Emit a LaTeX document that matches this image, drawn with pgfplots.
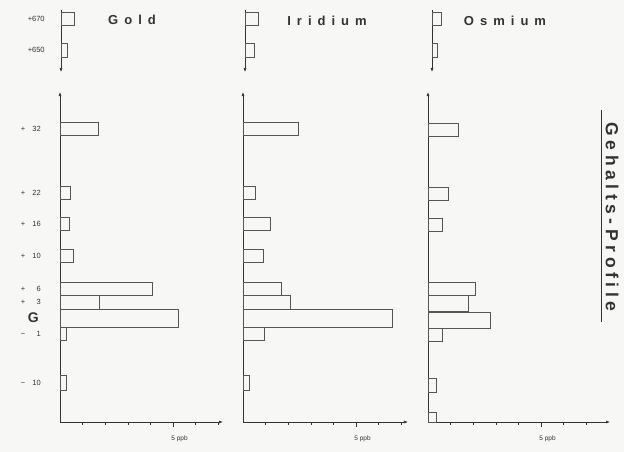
\documentclass[border=0pt]{standalone}
\usepackage{fontspec}
\setmainfont{Liberation Sans}
\usepackage{pgfplots}
\pgfplotsset{compat=1.18}
\usetikzlibrary{arrows.meta}
\definecolor{paper}{HTML}{F7F7F5}
\definecolor{ink}{HTML}{333333}
\definecolor{barink}{HTML}{555555}
\newcommand{\lbl}[2]{\makebox[20pt]{#1\hfill #2}}
\pgfplotsset{
  base/.style={scale only axis, clip=false,
    /pgf/number format/assume math mode=true,
    yticklabel style={font=\fontsize{7.5}{8}\selectfont, text=ink, anchor=east, inner sep=0pt, xshift=-14pt},
    ytick style={draw=none}},
  mainaxis/.style={base, height=330pt, ymin=-422, ymax=-92, xmin=0,
    axis x line=bottom, axis y line=left,
    x axis line style={ink, line width=0.6pt, -{Latex[length=4pt,width=3pt]}},
    y axis line style={ink, line width=0.6pt, -{Latex[length=4pt,width=3pt]}},
    xtick={5}, xticklabels={5 ppb}, minor xtick={1,2,3,4,6,7},
    tick align=outside, major tick length=5pt, minor tick length=2.5pt,
    xtick style={ink, line width=0.5pt},
    xticklabel style={font=\fontsize{6.5}{7}\selectfont, text=ink, anchor=north west, inner sep=0pt, xshift=-1.8pt, yshift=-9pt},
    ytick=\empty},
  topaxis/.style={base, height=62pt, width=40pt, ymin=-72, ymax=-10, xmin=0, xmax=1.77,
    axis x line=none, axis y line=left,
    y axis line style={ink, line width=0.6pt, {Latex[length=4pt,width=3pt]}-},
    xtick=\empty, ytick=\empty},
  barsty/.style={xbar, bar shift=0pt, draw=barink, fill=none, line width=0.6pt},
}
\begin{document}
\begin{tikzpicture}
\fill[paper] (0pt,0pt) rectangle (624pt,-452pt);

% ---------------- Gold ----------------
\begin{axis}[topaxis, at={(61pt,-72pt)}, anchor=south west,
  ytick={-18.5,-50}, yticklabels={{+670},{+650}}]
\addplot[barsty, bar width=13] coordinates {(0.6,-18.5)};
\addplot[barsty, bar width=14] coordinates {(0.3,-50)};
\end{axis}
\begin{axis}[mainaxis, at={(60pt,-422pt)}, anchor=south west, width=163pt, xmax=7.21,
  ytick={-129,-192.5,-224,-256,-288.5,-302,-318,-333.5,-382.5},
  yticklabels={{\lbl{+}{32}},{\lbl{+}{22}},{\lbl{+}{16}},{\lbl{+}{10}},{\lbl{+}{6}},{\lbl{+}{3}},
    {\makebox[20pt][r]{\fontsize{14}{14}\selectfont\bfseries G\hspace{2pt}}},{\lbl{−}{1}},{\lbl{−}{10}}}]
\addplot[barsty, bar width=13] coordinates {(1.68,-129) (0.45,-192.5) (0.4,-224) (0.57,-256) (4.1,-288.5) (0.3,-333.5)};
\addplot[barsty, bar width=14] coordinates {(1.72,-302)};
\addplot[barsty, bar width=18] coordinates {(5.25,-318)};
\addplot[barsty, bar width=15] coordinates {(0.27,-382.5)};
\end{axis}

% ---------------- Iridium ----------------
\begin{axis}[topaxis, at={(245pt,-72pt)}, anchor=south west]
\addplot[barsty, bar width=13] coordinates {(0.6,-18.5)};
\addplot[barsty, bar width=14] coordinates {(0.4,-50)};
\end{axis}
\begin{axis}[mainaxis, at={(243pt,-422pt)}, anchor=south west, width=165pt, xmax=7.3]
\addplot[barsty, bar width=13] coordinates {(2.45,-129) (0.53,-192.5) (1.2,-224) (0.88,-256) (1.68,-288.5) (0.93,-333.5)};
\addplot[barsty, bar width=14] coordinates {(2.1,-302)};
\addplot[barsty, bar width=18] coordinates {(6.6,-318)};
\addplot[barsty, bar width=15] coordinates {(0.3,-382.5)};
\end{axis}

% ---------------- Osmium ----------------
\begin{axis}[topaxis, at={(432pt,-72pt)}, anchor=south west]
\addplot[barsty, bar width=13] coordinates {(0.4,-18.5)};
\addplot[barsty, bar width=14] coordinates {(0.22,-50)};
\end{axis}
\begin{axis}[mainaxis, at={(428pt,-422pt)}, anchor=south west, width=182pt, xmax=8.05]
\addplot[barsty, bar width=13] coordinates {(1.33,-129.5) (0.88,-194) (0.62,-225) (2.1,-289) (0.62,-335)};
\addplot[barsty, bar width=16] coordinates {(1.77,-303.5)};
\addplot[barsty, bar width=16] coordinates {(2.74,-320)};
\addplot[barsty, bar width=14] coordinates {(0.35,-385)};
\addplot[barsty, bar width=10] coordinates {(0.35,-417)};
\end{axis}

% ---------------- titles ----------------
\node[anchor=base, text=ink, font=\fontsize{13}{13}\selectfont\bfseries, inner sep=0pt]
  at (132pt,-25pt) {G\kern6pt o\kern6pt l\kern6pt d};
\node[anchor=base, text=ink, font=\fontsize{13}{13}\selectfont\bfseries, inner sep=0pt]
  at (327pt,-26pt) {I\kern6pt r\kern6pt i\kern6pt d\kern6pt i\kern6pt u\kern6pt m};
\node[anchor=base, text=ink, font=\fontsize{13}{13}\selectfont\bfseries, inner sep=0pt]
  at (505pt,-26pt) {O\kern6pt s\kern6pt m\kern6pt i\kern6pt u\kern6pt m};
\node[rotate=-90, text=ink, font=\fontsize{17.5}{18}\selectfont\bfseries, inner sep=0pt]
  at (612pt,-217pt) {G\kern4.6pt e\kern4.6pt h\kern4.6pt a\kern4.6pt l\kern4.6pt t\kern4.6pt s\kern4.6pt -\kern4.6pt P\kern4.6pt r\kern4.6pt o\kern4.6pt f\kern4.6pt i\kern4.6pt l\kern4.6pt e};
\draw[ink, line width=0.8pt] (601pt,-110pt) -- (601pt,-322pt);
\end{tikzpicture}
\end{document}
